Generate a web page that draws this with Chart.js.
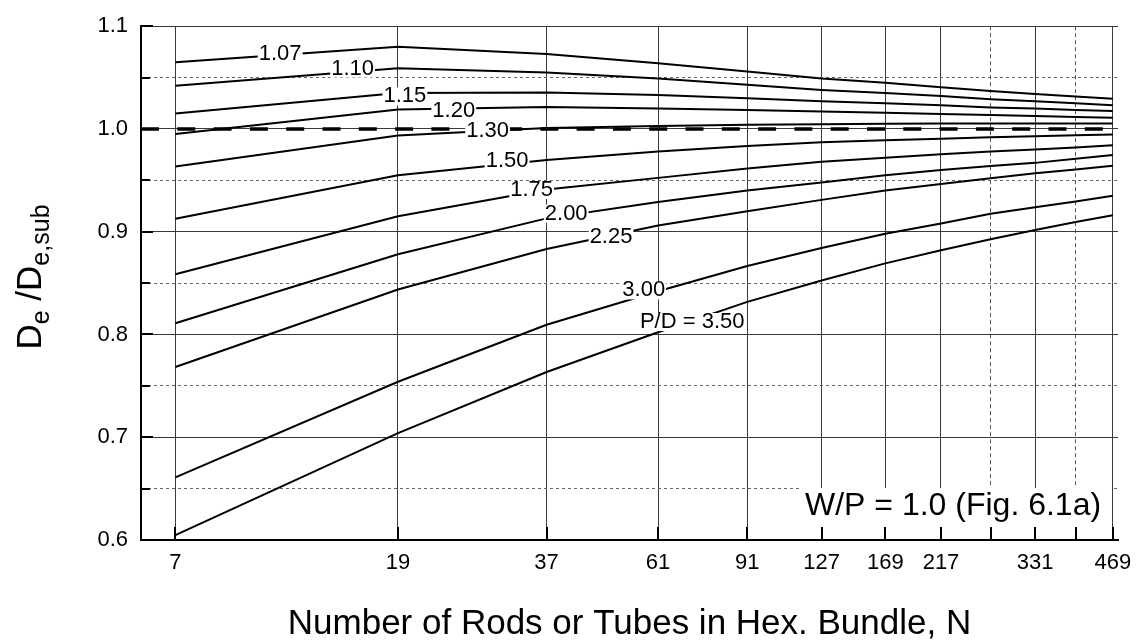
<!DOCTYPE html>
<html>
<head>
<meta charset="utf-8">
<script src="https://cdn.jsdelivr.net/npm/chart.js@4.4.1/dist/chart.umd.min.js"></script>
<style>
  html, body { margin: 0; padding: 0; background: #fff; }
  #wrap { width: 1144px; height: 643px; }
</style>
</head>
<body>
<div id="wrap"><canvas id="chart" width="1144" height="643"></canvas></div>
<script>
// ---- data ----
const rodCounts = [7, 19, 37, 61, 91, 127, 169, 217, 271, 331, 397, 469];
const xTickLabels = ['7', '19', '37', '61', '91', '127', '169', '217', '', '331', '', '469'];
const yTickValues = [0.6, 0.65, 0.7, 0.75, 0.8, 0.85, 0.9, 0.95, 1.0, 1.05, 1.1];
const yTickLabels = ['0.6', '', '0.7', '', '0.8', '', '0.9', '', '1.0', '', '1.1'];

const pd107 = [1.065, 1.080, 1.073, 1.064, 1.056, 1.049, 1.045, 1.0405, 1.037, 1.034, 1.0315, 1.0295];
const pd110 = [1.042, 1.059, 1.055, 1.049, 1.043, 1.038, 1.035, 1.032, 1.029, 1.027, 1.025, 1.023];
const pd115 = [1.015, 1.035, 1.0355, 1.033, 1.030, 1.027, 1.025, 1.023, 1.021, 1.020, 1.0185, 1.0175];
const pd120 = [0.995, 1.019, 1.0213, 1.020, 1.0185, 1.017, 1.0158, 1.0145, 1.0135, 1.0125, 1.0117, 1.011];
const pd130 = [0.9635, 0.9937, 1.001, 1.003, 1.004, 1.0047, 1.005, 1.0052, 1.0053, 1.0054, 1.0054, 1.0054];
const pd150 = [0.9127, 0.955, 0.9698, 0.978, 0.9835, 0.987, 0.989, 0.9905, 0.992, 0.993, 0.994, 0.9946];
const pd175 = [0.8587, 0.915, 0.941, 0.9524, 0.9615, 0.968, 0.972, 0.9755, 0.978, 0.980, 0.982, 0.9841];
const pd200 = [0.811, 0.878, 0.913, 0.929, 0.940, 0.948, 0.955, 0.960, 0.964, 0.967, 0.971, 0.9746];
const pd225 = [0.7683, 0.8438, 0.8832, 0.906, 0.920, 0.931, 0.940, 0.9465, 0.952, 0.957, 0.9605, 0.9641];
const pd300 = [0.661, 0.754, 0.8095, 0.842, 0.8667, 0.8841, 0.898, 0.908, 0.9175, 0.9238, 0.9295, 0.935];
const pd350 = [0.6048, 0.704, 0.7635, 0.8022, 0.8317, 0.8525, 0.8692, 0.8819, 0.8927, 0.9016, 0.9095, 0.916];

const curveSeries = [pd107, pd110, pd115, pd120, pd130, pd150, pd175, pd200, pd225, pd300, pd350];
const curveNames = ['1.07', '1.10', '1.15', '1.20', '1.30', '1.50', '1.75', '2.00', '2.25', '3.00', 'P/D = 3.50'];
// where each inline label sits on its curve (N, value)
const labelN = [11.2, 15.5, 19.6, 24.4, 28.4, 31.0, 34.6, 40.4, 49.4, 57.2, 71.1];
const labelValue = [1.0729, 1.0588, 1.0317, 1.0175, 0.9976, 0.9686, 0.9405, 0.9176, 0.8952, 0.8429, 0.8121];

// dashed reference at De/De,sub = 1
const refN = [6, 480];
const refValue = [1, 1];

const FONT = '"Liberation Sans", Arial, Helvetica, sans-serif';
Chart.defaults.font.family = FONT;
Chart.defaults.color = '#000';

// ---- inward tick marks ----
const innerTicks = {
  id: 'innerTicks',
  beforeDatasetsDraw(chart) {
    const { ctx, chartArea: a, scales: { x, y } } = chart;
    ctx.save();
    ctx.strokeStyle = '#000';
    ctx.lineWidth = 2;
    ctx.beginPath();
    x.ticks.forEach((t) => {
      const px = Math.round(x.getPixelForValue(t.value));
      ctx.moveTo(px, a.bottom);
      ctx.lineTo(px, a.bottom - 13);
    });
    y.ticks.forEach((t, i) => {
      const py = Math.round(y.getPixelForValue(t.value));
      ctx.moveTo(a.left, py);
      ctx.lineTo(a.left + (yTickLabels[i] ? 12 : 9), py);
    });
    ctx.stroke();
    ctx.restore();
  }
};

// ---- curve labels + note box ----
const curveLabels = {
  id: 'curveLabels',
  afterDatasetsDraw(chart) {
    const { ctx, chartArea: a, scales: { x, y } } = chart;
    ctx.save();
    ctx.font = `22px ${FONT}`;
    ctx.textAlign = 'center';
    ctx.textBaseline = 'middle';
    curveNames.forEach((txt, i) => {
      const px = x.getPixelForValue(labelN[i]);
      const py = y.getPixelForValue(labelValue[i]);
      const w = ctx.measureText(txt).width;
      ctx.fillStyle = '#fff';
      ctx.fillRect(px - w / 2 - 1, py - 9, w + 2, 18);
      ctx.fillStyle = '#000';
      ctx.fillText(txt, px, py);
    });

    // W/P note, bottom right
    ctx.fillStyle = '#fff';
    ctx.fillRect(a.right - 317, a.bottom - 52, 310, 39);
    ctx.fillStyle = '#000';
    ctx.font = `32px ${FONT}`;
    ctx.textAlign = 'left';
    ctx.fillText('W/P = 1.0 (Fig. 6.1a)', a.right - 313, a.bottom - 34);
    ctx.restore();
  }
};

// ---- axis titles ----
const axisTitles = {
  id: 'axisTitles',
  afterDraw(chart) {
    const { ctx, chartArea: a } = chart;
    ctx.save();
    ctx.fillStyle = '#000';
    ctx.textBaseline = 'alphabetic';

    ctx.font = `35px ${FONT}`;
    ctx.textAlign = 'center';
    ctx.fillText('Number of Rods or Tubes in Hex. Bundle, N', (a.left + a.right) / 2, 634);

    // D_e /D_e,sub rotated
    const parts = [
      { t: 'D', sub: false }, { t: 'e', sub: true }, { t: ' /', sub: false },
      { t: 'D', sub: false }, { t: 'e,sub', sub: true }
    ];
    const mainFont = `35px ${FONT}`;
    const subFont = `25px ${FONT}`;
    let total = 0;
    parts.forEach((p) => {
      ctx.font = p.sub ? subFont : mainFont;
      p.w = ctx.measureText(p.t).width;
      total += p.w;
    });
    ctx.translate(41, 277);
    ctx.rotate(-Math.PI / 2);
    ctx.textAlign = 'left';
    let cx = -total / 2;
    parts.forEach((p) => {
      ctx.font = p.sub ? subFont : mainFont;
      ctx.fillText(p.t, cx, p.sub ? 8 : 0);
      cx += p.w;
    });
    ctx.restore();
  }
};

const datasets = curveSeries.map((s) => ({
  data: s.map((v, i) => ({ x: rodCounts[i], y: v })),
  borderColor: '#000',
  borderWidth: 2,
  pointRadius: 0,
  tension: 0,
  fill: false
}));
datasets.push({
  data: refValue.map((v, i) => ({ x: refN[i], y: v })),
  borderColor: '#000',
  borderWidth: 3.5,
  borderDash: [18, 18.3],
  pointRadius: 0,
  fill: false
});

new Chart(document.getElementById('chart'), {
  type: 'line',
  data: { datasets },
  options: {
    responsive: false,
    animation: false,
    events: [],
    layout: { padding: { left: 0, right: 26, top: 15, bottom: 0 } },
    plugins: { legend: { display: false }, tooltip: { enabled: false } },
    scales: {
      x: {
        type: 'logarithmic',
        min: 6,
        max: 480,
        afterBuildTicks: (s) => { s.ticks = rodCounts.map((v) => ({ value: v })); },
        afterFit: (s) => { s.height = 103; },
        ticks: {
          callback: (v, i) => xTickLabels[i],
          autoSkip: false,
          maxRotation: 0,
          padding: 10,
          font: { size: 22 },
          color: '#000'
        },
        grid: {
          drawTicks: false,
          lineWidth: 1,
          color: (c) => (xTickLabels[c.index] === '' ? '#555' : '#3a3a3a')
        },
        border: {
          display: true,
          color: '#000',
          width: 2,
          dash: (c) => (c.type === 'tick' && xTickLabels[c.index] === '' ? [4, 3] : [])
        }
      },
      y: {
        type: 'linear',
        min: 0.6,
        max: 1.1,
        afterBuildTicks: (s) => { s.ticks = yTickValues.map((v) => ({ value: v })); },
        afterFit: (s) => { s.width = 141; },
        ticks: {
          callback: (v, i) => yTickLabels[i],
          padding: 13,
          font: { size: 22 },
          color: '#000'
        },
        grid: {
          drawTicks: false,
          lineWidth: 1,
          color: (c) => (yTickLabels[c.index] === '' ? '#666' : '#3a3a3a')
        },
        border: {
          display: true,
          color: '#000',
          width: 2,
          dash: (c) => (c.type === 'tick' && yTickLabels[c.index] === '' ? [3, 3] : [])
        }
      }
    }
  },
  plugins: [innerTicks, curveLabels, axisTitles]
});
</script>
</body>
</html>
